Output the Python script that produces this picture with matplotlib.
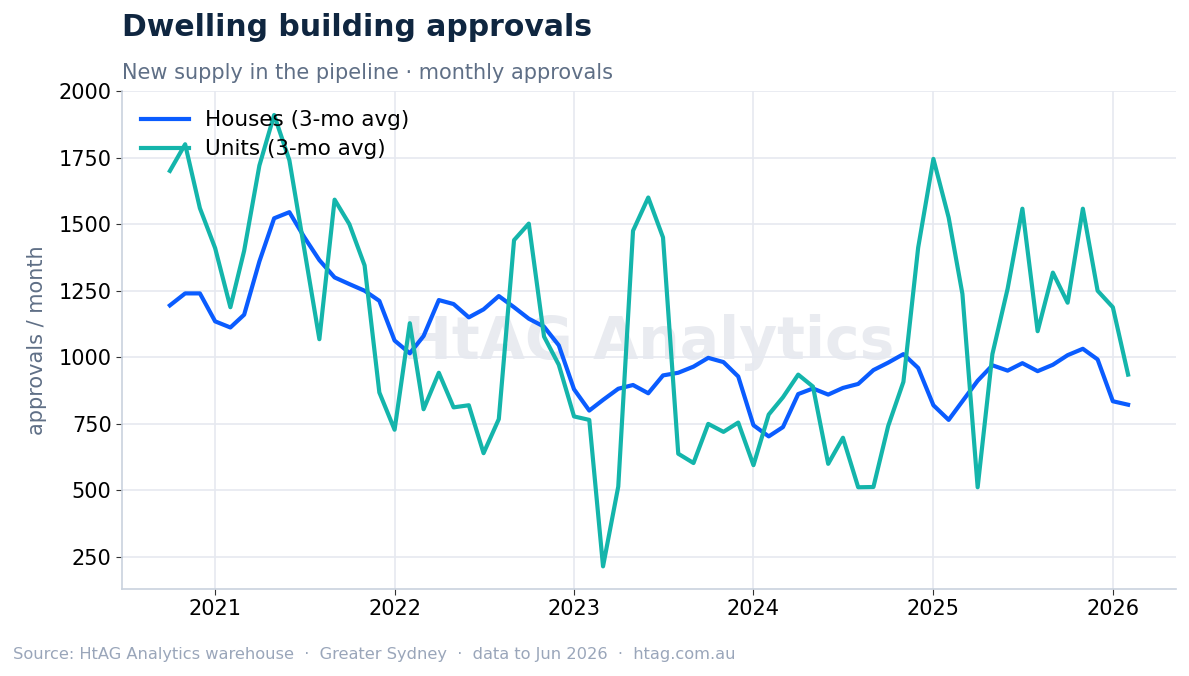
import matplotlib
matplotlib.use("Agg")
import matplotlib.pyplot as plt
import matplotlib.dates as mdates
import pandas as pd

months = pd.date_range("2020-10-01", "2026-02-01", freq="MS")

houses = [1195, 1240, 1240,
          1135, 1112, 1160, 1360, 1522, 1545, 1452, 1365, 1300, 1275, 1250, 1212,
          1063, 1015, 1080, 1215, 1200, 1150, 1180, 1230, 1188, 1145, 1115, 1045,
          880, 800, 840, 882, 896, 865, 932, 942, 965, 998, 982, 928,
          745, 703, 738, 862, 883, 860, 885, 900, 952, 980, 1012, 960,
          820, 765, 835, 912, 970, 950, 978, 948, 972, 1008, 1032, 992,
          835, 822]

units = [1700, 1800, 1560,
         1410, 1188, 1400, 1720, 1910, 1740, 1410, 1068, 1592, 1500, 1345, 868,
         728, 1128, 805, 942, 812, 820, 640, 768, 1440, 1502, 1078, 972,
         778, 765, 215, 515, 1475, 1600, 1450, 638, 603, 750, 720, 755,
         595, 785, 850, 935, 890, 600, 698, 512, 513, 742, 908, 1412,
         1745, 1525, 1238, 512, 1012, 1258, 1558, 1098, 1318, 1205, 1558, 1250,
         1188, 935]

series_labels = ["Houses (3-mo avg)", "Units (3-mo avg)"]
series_colors = ["#0a5cff", "#14b5ab"]

title = "Dwelling building approvals"
subtitle = "New supply in the pipeline \u00b7 monthly approvals"
ylabel = "approvals / month"
footer = ("Source: HtAG Analytics warehouse  \u00b7  Greater Sydney  \u00b7  "
          "data to Jun 2026  \u00b7  htag.com.au")
watermark = "HtAG Analytics"

fig = plt.figure(figsize=(11.89, 6.76), dpi=100)
ax = fig.add_axes([122 / 1189, 1 - 589 / 676, (1176 - 122) / 1189, (589 - 91) / 676])

ax.text(0.5, 0.495, watermark, transform=ax.transAxes, ha="center", va="center",
        fontsize=42, fontweight="bold", color="#e9ebf0", zorder=0.5)

for vals, lab, col in zip([houses, units], series_labels, series_colors):
    ax.plot(months, vals, color=col, lw=3.0, label=lab, zorder=3)

ax.set_ylim(130, 2000)
ax.margins(x=0.05)
ax.set_yticks([250, 500, 750, 1000, 1250, 1500, 1750, 2000])
ax.xaxis.set_major_locator(mdates.YearLocator())
ax.xaxis.set_major_formatter(mdates.DateFormatter("%Y"))

ax.grid(True, color="#e6e9f0", lw=1.2, zorder=0)
ax.set_axisbelow(True)
for s in ["top", "right"]:
    ax.spines[s].set_visible(False)
for s in ["left", "bottom"]:
    ax.spines[s].set_color("#c9d2de")
    ax.spines[s].set_linewidth(1.2)
ax.tick_params(axis="both", labelsize=15, color="#333333", length=4)

ax.set_ylabel(ylabel, fontsize=15, color="#5f6f86", labelpad=8)

leg = ax.legend(loc="upper left", frameon=False, fontsize=15.5, handlelength=2.2,
                handletextpad=0.75, borderaxespad=0.5, labelspacing=0.42)

fig.text(122 / 1189, 1 - 27 / 676, title, fontsize=21.5, fontweight="bold",
         color="#0f2640", ha="left", va="center")
fig.text(122 / 1189, 1 - 73 / 676, subtitle, fontsize=15, color="#5f6f86",
         ha="left", va="center")
fig.text(13 / 1189, 1 - 655 / 676, footer, fontsize=11.7, color="#9aa6ba",
         ha="left", va="center")

fig.savefig("out.png", dpi=100)
